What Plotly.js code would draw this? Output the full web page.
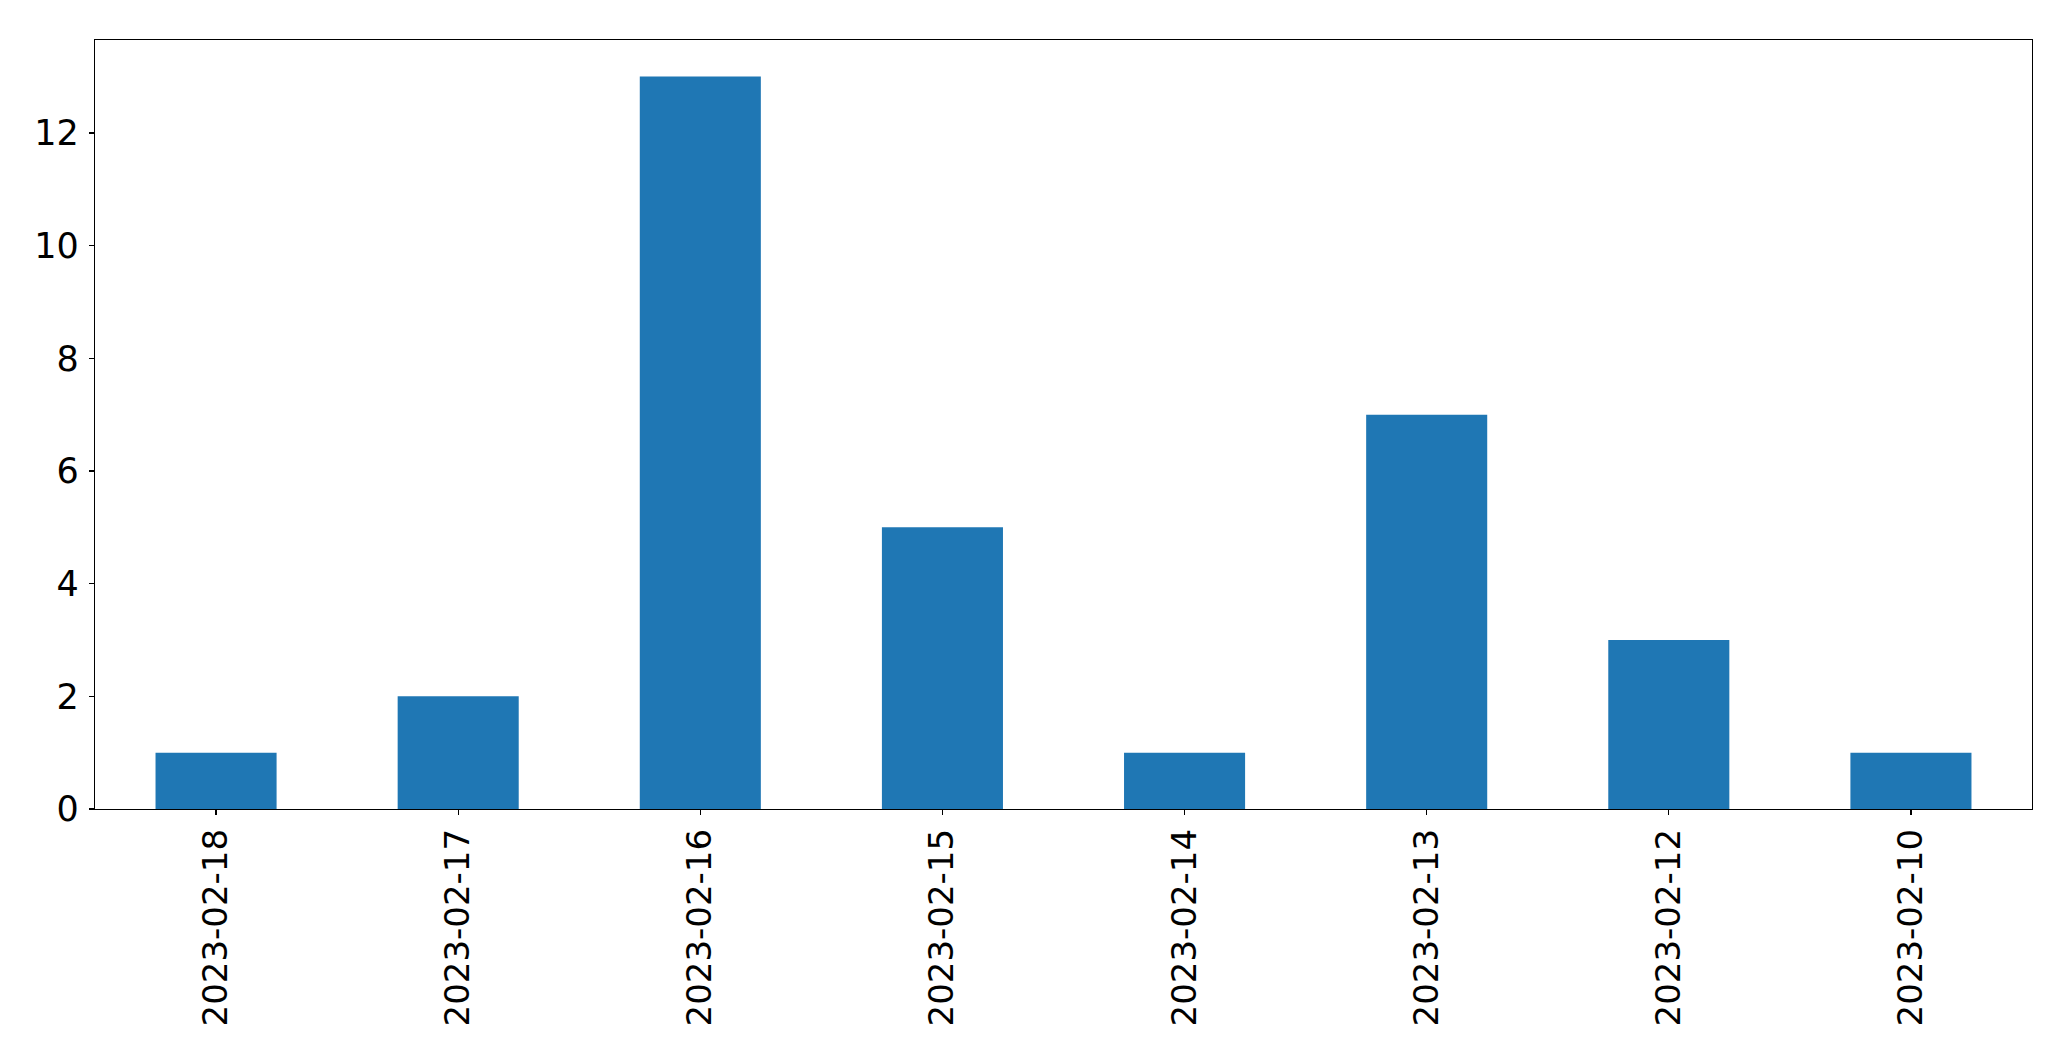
<!DOCTYPE html>
<html>
<head>
<meta charset="utf-8">
<script src="https://cdn.plot.ly/plotly-3.0.1.min.js"></script>
<style>html,body{margin:0;padding:0;background:#fff;}#chart{width:2071px;height:1061px;}</style>
</head>
<body>
<div id="chart"></div>
<script>
const dates = ["2023-02-18","2023-02-17","2023-02-16","2023-02-15","2023-02-14","2023-02-13","2023-02-12","2023-02-10"];
const counts = [1, 2, 13, 5, 1, 7, 3, 1];
const yTicks = [0, 2, 4, 6, 8, 10, 12];

const trace = {
  type: "bar",
  x: dates,
  y: counts,
  width: 0.5,
  marker: {color: "#1f77b4", line: {width: 0}},
  hoverinfo: "x+y"
};

const font = {family: "DejaVu Sans, sans-serif", size: 34, color: "#000"};
const yfont = {family: "DejaVu Sans, sans-serif", size: 35, color: "#000"};

const layout = {
  width: 2071,
  height: 1061,
  margin: {l: 94.5, r: 39, t: 39.5, b: 252, pad: 0},
  paper_bgcolor: "#fff",
  plot_bgcolor: "#fff",
  showlegend: false,
  bargap: 0.5,
  font: font,
  xaxis: {
    type: "category",
    range: [-0.5, 7.5],
    tickangle: -90,
    ticks: "outside",
    ticklen: 5,
    tickwidth: 1.3,
    tickcolor: "#000",
    showline: true,
    linecolor: "#000",
    linewidth: 1.3,
    mirror: true,
    showgrid: false,
    zeroline: false,
    tickfont: font,
    ticklabelstandoff: 0
  },
  yaxis: {
    range: [0, 13.65],
    tickmode: "array",
    tickvals: yTicks,
    ticktext: yTicks.map(String),
    ticks: "outside",
    ticklen: 5,
    tickwidth: 1.3,
    tickcolor: "#000",
    showline: true,
    linecolor: "#000",
    linewidth: 1.3,
    mirror: true,
    showgrid: false,
    zeroline: false,
    tickfont: yfont,
    ticklabelstandoff: 3
  }
};

Plotly.newPlot("chart", [trace], layout, {displayModeBar: false, staticPlot: true});
</script>
</body>
</html>
